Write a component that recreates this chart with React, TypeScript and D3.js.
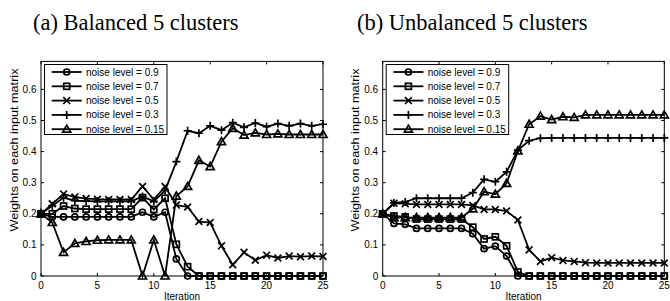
import * as d3 from "d3";

// iteration index shared by every series
const iterations = [0, 1, 2, 3, 4, 5, 6, 7, 8, 9, 10, 11, 12, 13, 14, 15, 16, 17, 18, 19, 20, 21, 22, 23, 24, 25];

const seriesLabels = ["noise level = 0.9", "noise level = 0.7", "noise level = 0.5", "noise level = 0.3", "noise level = 0.15"];
const seriesMarkers = ["circle", "square", "x", "plus", "triangle"];

const xTicks = [0, 5, 10, 15, 20, 25];
const yTicks = [0, 0.1, 0.2, 0.3, 0.4, 0.5, 0.6];

// (a) balanced
const bal09 = [0.2, 0.19, 0.19, 0.19, 0.19, 0.19, 0.19, 0.19, 0.19, 0.205, 0.19, 0.205, 0.055, 0, 0, 0, 0, 0, 0, 0, 0, 0, 0, 0, 0, 0];
const bal07 = [0.2, 0.2, 0.225, 0.217, 0.215, 0.215, 0.215, 0.215, 0.215, 0.252, 0.214, 0.25, 0.102, 0.03, 0, 0, 0, 0, 0, 0, 0, 0, 0, 0, 0, 0];
const bal05 = [0.2, 0.232, 0.264, 0.254, 0.249, 0.247, 0.246, 0.246, 0.246, 0.288, 0.246, 0.288, 0.228, 0.222, 0.175, 0.172, 0.097, 0.036, 0.076, 0.051, 0.067, 0.058, 0.064, 0.062, 0.064, 0.063];
const bal03 = [0.2, 0.226, 0.252, 0.242, 0.241, 0.24, 0.24, 0.24, 0.24, 0.256, 0.24, 0.275, 0.368, 0.467, 0.459, 0.483, 0.469, 0.493, 0.478, 0.492, 0.48, 0.49, 0.483, 0.49, 0.483, 0.488];
const bal015 = [0.2, 0.172, 0.076, 0.105, 0.111, 0.115, 0.116, 0.116, 0.116, 0, 0.116, 0, 0.257, 0.288, 0.372, 0.352, 0.432, 0.475, 0.453, 0.46, 0.455, 0.457, 0.455, 0.455, 0.455, 0.455];

// (b) unbalanced
const unb09 = [0.2, 0.169, 0.166, 0.153, 0.153, 0.153, 0.153, 0.153, 0.136, 0.088, 0.096, 0.064, 0, 0, 0, 0, 0, 0, 0, 0, 0, 0, 0, 0, 0, 0];
const unb07 = [0.2, 0.193, 0.19, 0.183, 0.183, 0.183, 0.183, 0.183, 0.157, 0.119, 0.126, 0.097, 0.013, 0, 0, 0, 0, 0, 0, 0, 0, 0, 0, 0, 0, 0];
const unb05 = [0.2, 0.234, 0.232, 0.23, 0.23, 0.23, 0.23, 0.23, 0.227, 0.214, 0.214, 0.209, 0.18, 0.084, 0.047, 0.059, 0.05, 0.047, 0.043, 0.042, 0.042, 0.042, 0.042, 0.042, 0.042, 0.042];
const unb03 = [0.2, 0.235, 0.238, 0.25, 0.25, 0.25, 0.25, 0.25, 0.268, 0.311, 0.303, 0.335, 0.405, 0.435, 0.443, 0.444, 0.444, 0.444, 0.444, 0.444, 0.444, 0.444, 0.444, 0.444, 0.444, 0.444];
const unb015 = [0.2, 0.188, 0.188, 0.188, 0.188, 0.188, 0.188, 0.188, 0.216, 0.271, 0.263, 0.298, 0.402, 0.488, 0.514, 0.503, 0.512, 0.51, 0.518, 0.518, 0.518, 0.518, 0.518, 0.518, 0.518, 0.518];

const SANS = "'Liberation Sans', Arial, Helvetica, sans-serif";
const SERIF = "'Liberation Serif', 'Times New Roman', serif";

function Marker({ type, x, y }: { type: string; x: number; y: number }) {
  const s = 3.4;
  const common = { fill: "none", stroke: "#000", strokeWidth: 1.7 };
  if (type === "circle") return <circle cx={x} cy={y} r={3} {...common} />;
  if (type === "square") return <rect x={x - 3} y={y - 3} width={6} height={6} {...common} />;
  if (type === "x")
    return <path d={`M${x - s},${y - s}L${x + s},${y + s}M${x - s},${y + s}L${x + s},${y - s}`} {...common} />;
  if (type === "plus")
    return <path d={`M${x - 4},${y}L${x + 4},${y}M${x},${y - 4}L${x},${y + 4}`} {...common} />;
  return <path d={`M${x},${y - 4}L${x + 4},${y + 3}L${x - 4},${y + 3}Z`} {...common} />;
}

function Panel({ title, titleX, left, right, series }: { title: string; titleX: number; left: number; right: number; series: number[][] }) {
  const x = d3.scaleLinear().domain([0, 25]).range([left, right]);
  const y = d3.scaleLinear().domain([0, 0.69]).range([276, 276 - 0.69 * 311]);
  const top = y(0.69);
  const bottom = y(0);
  const line = d3.line<number>().x((_, i) => x(iterations[i])).y((v) => y(v));

  const legX = left + 3.5;
  const legTop = 64.5;
  const rowH = 14.3;

  return (
    <g>
      <text x={titleX} y={29.5} fontFamily={SERIF} fontSize={22.5} fill="#000">{title}</text>
      <rect x={left} y={top} width={right - left} height={bottom - top} fill="#fff" stroke="none" />

      {series.map((vals, si) => (
        <g key={si}>
          <path d={line(vals) ?? ""} fill="none" stroke="#000" strokeWidth={1.8} />
          {vals.map((v, i) => (
            <Marker key={i} type={seriesMarkers[si]} x={x(iterations[i])} y={y(v)} />
          ))}
        </g>
      ))}

      {/* frame and inward ticks */}
      <rect x={left} y={top} width={right - left} height={bottom - top} fill="none" stroke="#000" strokeWidth={1} />
      {xTicks.map((t) => (
        <g key={"x" + t}>
          <line x1={x(t)} x2={x(t)} y1={bottom} y2={bottom - 3} stroke="#000" />
          <line x1={x(t)} x2={x(t)} y1={top} y2={top + 3} stroke="#000" />
          <text x={x(t)} y={288.5} textAnchor="middle" fontFamily={SANS} fontSize={10} fill="#000">{t}</text>
        </g>
      ))}
      {yTicks.map((t) => (
        <g key={"y" + t}>
          <line x1={left} x2={left + 3} y1={y(t)} y2={y(t)} stroke="#000" />
          <line x1={right} x2={right - 3} y1={y(t)} y2={y(t)} stroke="#000" />
          <text x={left - 4.5} y={y(t) + 3.5} textAnchor="end" fontFamily={SANS} fontSize={10} fill="#000">{d3.format("")(t)}</text>
        </g>
      ))}
      <text x={(left + right) / 2} y={299.5} textAnchor="middle" fontFamily={SANS} fontSize={10} fill="#000">Iteration</text>
      <text
        transform={`translate(${left - 23.5},150) rotate(-90)`}
        textAnchor="middle"
        fontFamily={SANS}
        fontSize={10}
        textLength={163}
        lengthAdjust="spacingAndGlyphs"
        fill="#000"
      >
        Weights on each input matrix
      </text>

      {/* legend */}
      <rect x={legX} y={legTop} width={122.5} height={70} fill="#fff" stroke="#000" strokeWidth={1} />
      {seriesLabels.map((lab, i) => {
        const ry = legTop + 7.5 + i * rowH;
        return (
          <g key={lab}>
            <line x1={left + 10.7} x2={left + 40.7} y1={ry} y2={ry} stroke="#000" strokeWidth={1.8} />
            <Marker type={seriesMarkers[i]} x={left + 25.7} y={ry} />
            <text x={left + 45} y={ry + 3.5} fontFamily={SANS} fontSize={10} fill="#000">{lab}</text>
          </g>
        );
      })}
    </g>
  );
}

export default function App() {
  return (
    <svg width={670} height={301} style={{ position: "absolute", left: 0, top: 0, background: "#fff" }}>
      <Panel title="(a) Balanced 5 clusters" titleX={33} left={41} right={323} series={[bal09, bal07, bal05, bal03, bal015]} />
      <Panel title="(b) Unbalanced 5 clusters" titleX={357} left={382.7} right={664.3} series={[unb09, unb07, unb05, unb03, unb015]} />
    </svg>
  );
}
